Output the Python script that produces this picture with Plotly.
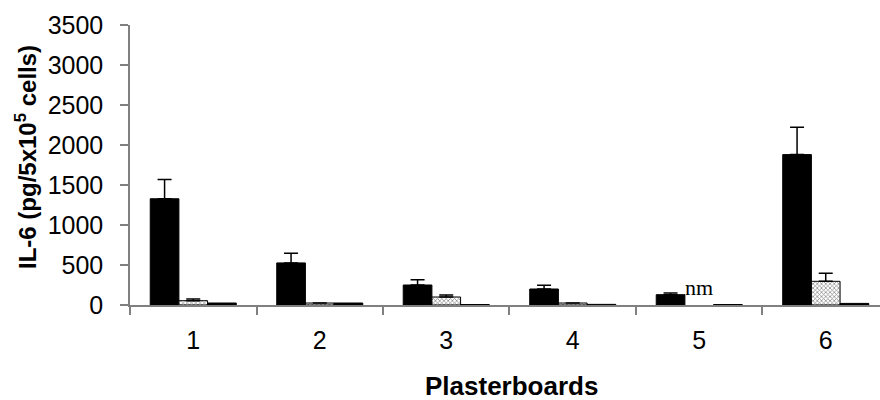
import plotly.graph_objects as go

categories = ["1", "2", "3", "4", "5", "6"]
series_a = [1328, 526, 250, 200, 129, 1880]
series_a_err = [242, 121, 67, 46, 21, 342]
series_b = [54, 25, 100, 25, None, 296]
series_b_err = [21, 0, 25, 0, None, 100]
series_c = [25, 25, 6, 8, 6, 20]
nm_label = "nm"
nm_category = "5"
nm_y = 215

y_ticks = [0, 500, 1000, 1500, 2000, 2500, 3000, 3500]

font = "Liberation Sans, Arial, sans-serif"
axis_col = "#808080"

fig = go.Figure()
fig.add_trace(go.Bar(
    x=categories, y=series_a,
    marker=dict(color="black", line=dict(color="black", width=1)),
    error_y=dict(type="data", array=series_a_err, arrayminus=[0]*6, symmetric=False,
                 color="black", thickness=1.5, width=7),
))
fig.add_trace(go.Bar(
    x=categories, y=series_b,
    marker=dict(color="white", line=dict(color="black", width=1),
                pattern=dict(shape="x", size=3, solidity=0.4, fgcolor="black", bgcolor="white")),
    error_y=dict(type="data", array=series_b_err, arrayminus=[0]*6, symmetric=False,
                 color="black", thickness=1.5, width=7),
))
fig.add_trace(go.Bar(
    x=categories, y=series_c,
    marker=dict(color="black", line=dict(color="black", width=1)),
))

fig.add_annotation(x=categories.index(nm_category), y=nm_y, text=nm_label, showarrow=False,
                   font=dict(family="Liberation Serif, Times New Roman, serif", size=22, color="black"),
                   xanchor="center", yanchor="middle")

# axis titles as annotations for exact placement
fig.add_annotation(xref="paper", yref="paper", x=(26 - 130) / 750, y=(305 - 157) / 280,
                   text="<b>IL-6 (pg/5x10<sup>5</sup> cells)</b>", textangle=-90, showarrow=False,
                   font=dict(family=font, size=24, color="black"),
                   xanchor="center", yanchor="middle")
fig.add_annotation(xref="paper", yref="paper", x=(511 - 130) / 750, y=0, yshift=-81,
                   text="<b>Plasterboards</b>", showarrow=False,
                   font=dict(family=font, size=26, color="black"),
                   xanchor="center", yanchor="middle")

fig.update_layout(
    width=880, height=400,
    margin=dict(l=130, r=0, t=25, b=95),
    paper_bgcolor="white", plot_bgcolor="white",
    barmode="group", bargap=0.32, bargroupgap=0,
    showlegend=False,
    font=dict(family=font, size=25, color="black"),
)
fig.update_xaxes(
    type="category", range=[-0.5, 5.429],
    showline=True, linecolor=axis_col, linewidth=1.5,
    ticks="outside", ticklen=8, tickcolor=axis_col, tickwidth=1.5,
    tickson="boundaries", showgrid=False, zeroline=False,
    ticklabelstandoff=12,
)
fig.update_yaxes(
    range=[0, 3500], tickvals=y_ticks,
    showline=True, linecolor=axis_col, linewidth=1.5,
    ticks="outside", ticklen=8, tickcolor=axis_col, tickwidth=1.5,
    showgrid=False, zeroline=False,
    ticklabelstandoff=12,
)

fig.write_html("out.html")
